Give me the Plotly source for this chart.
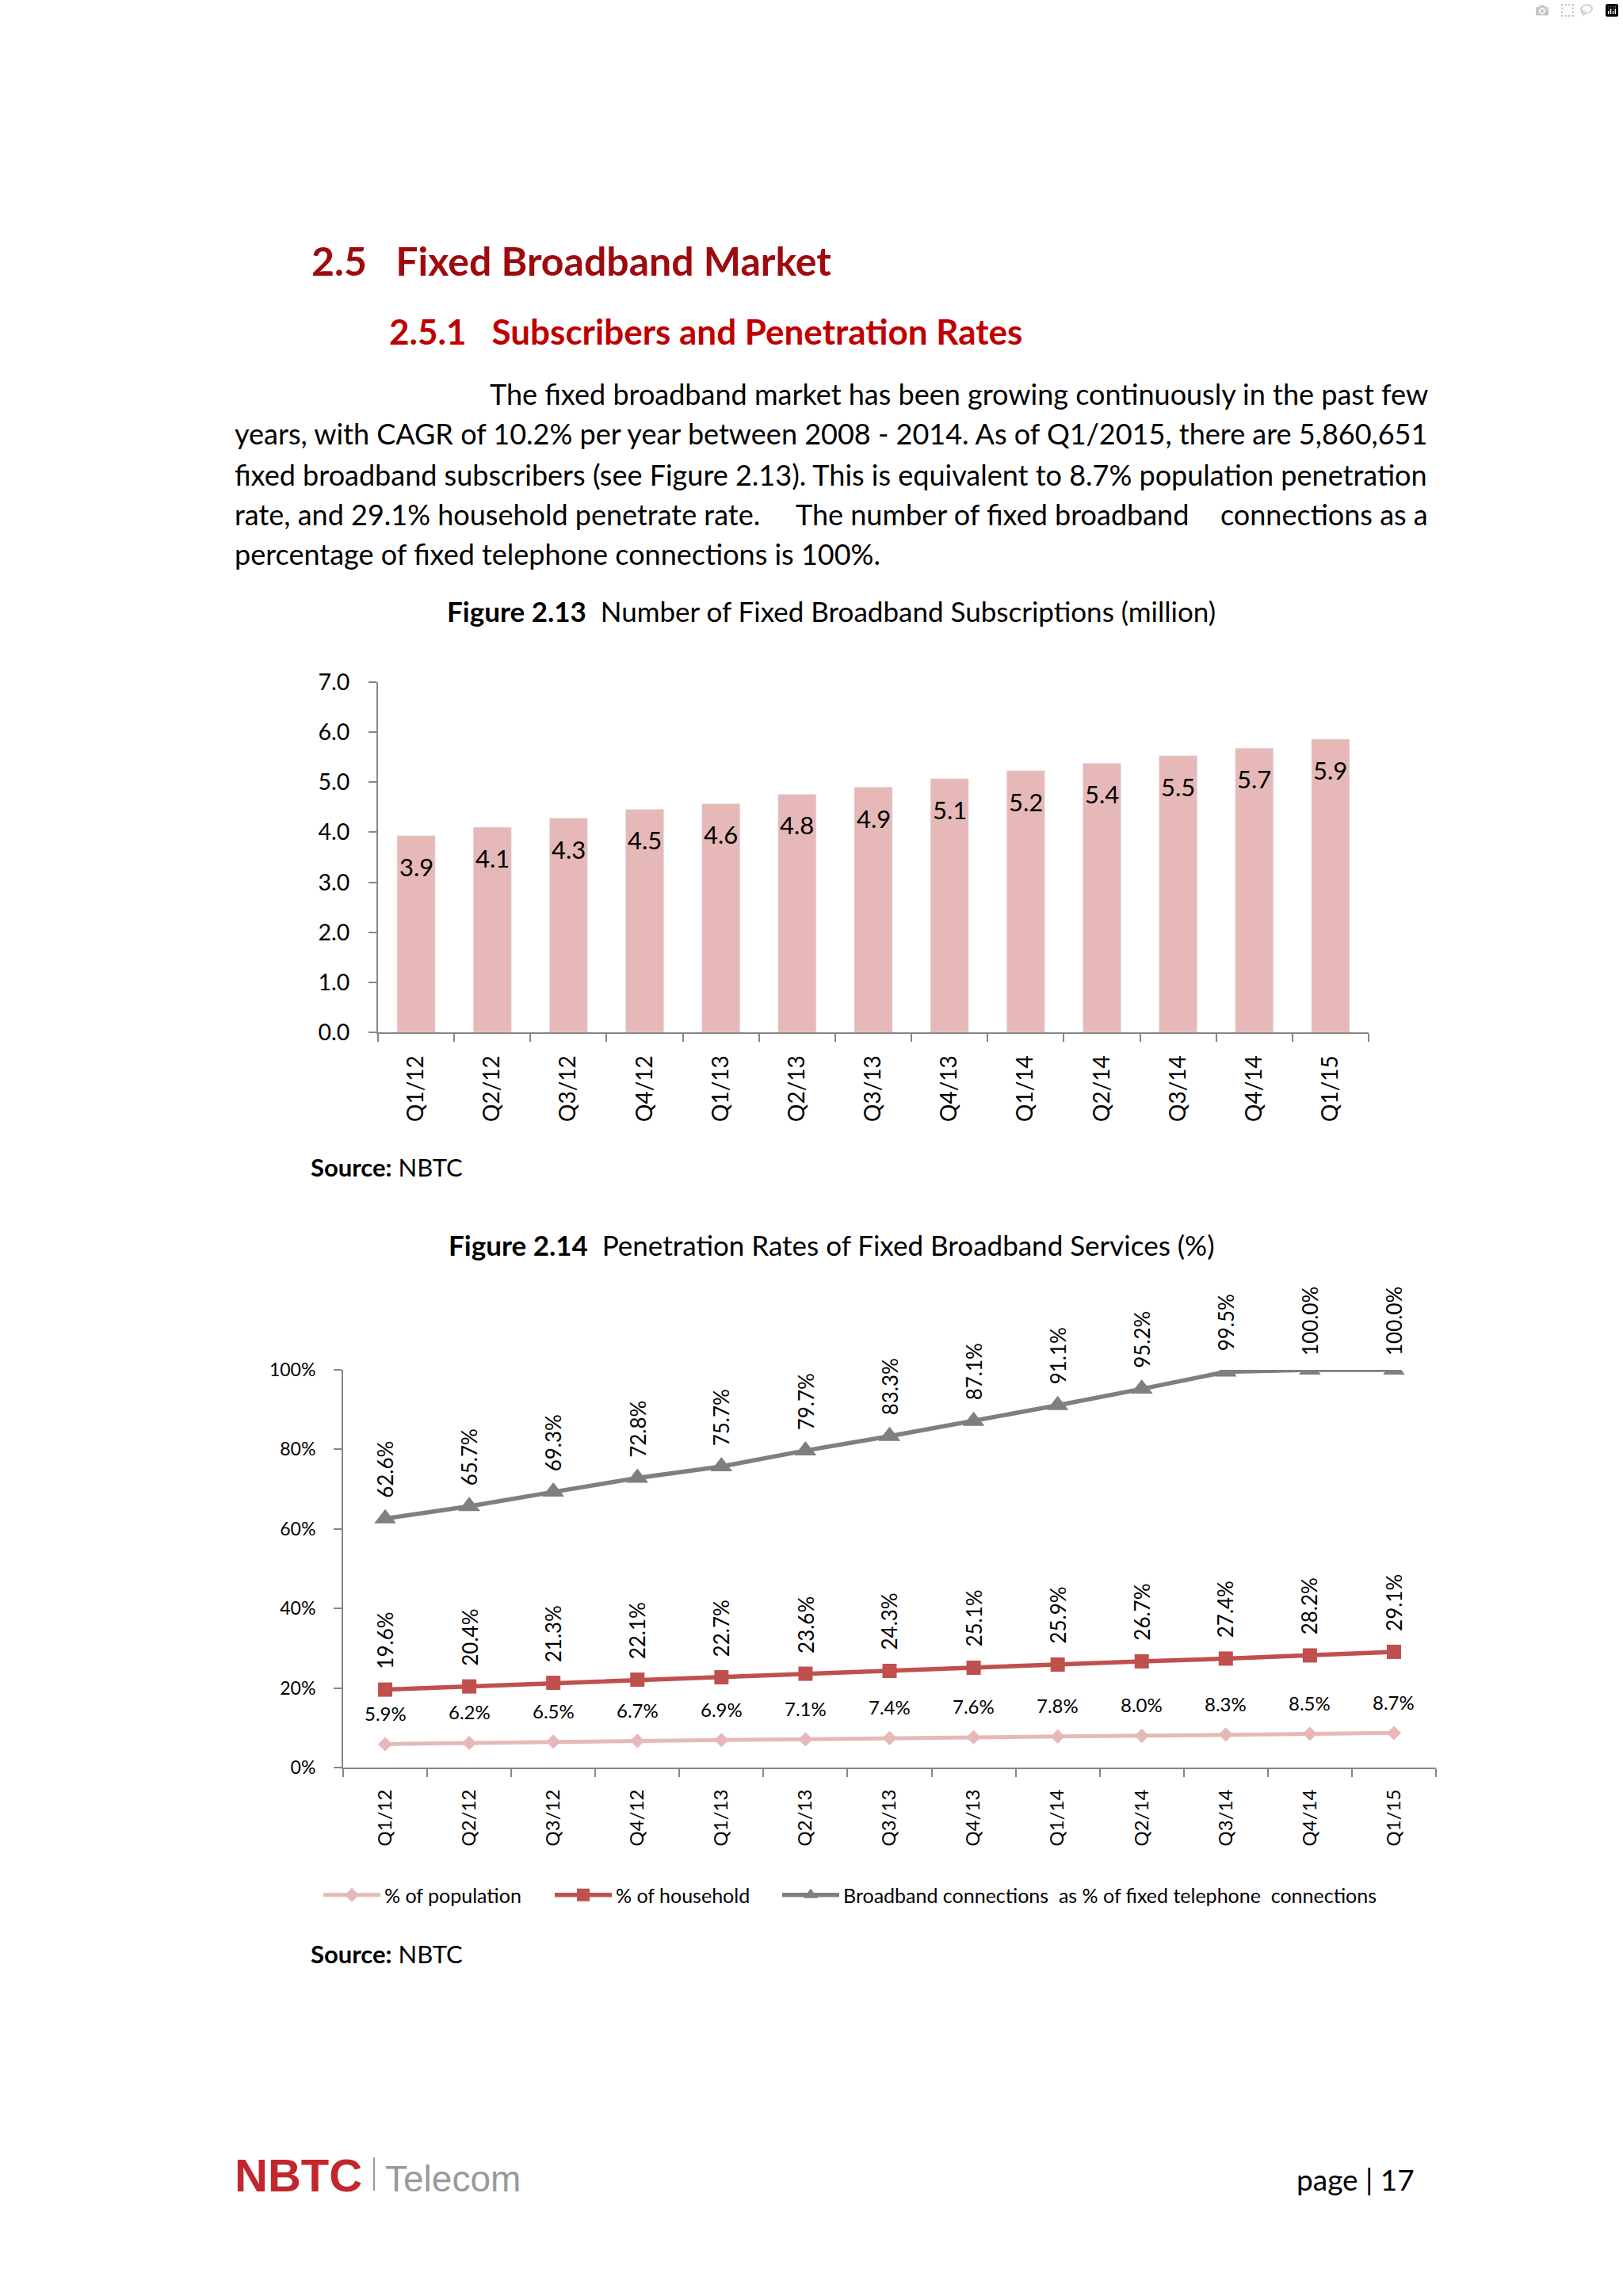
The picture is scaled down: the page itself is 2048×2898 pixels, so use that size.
import plotly.graph_objects as go

W, H = 2048, 2898

# ---------------- data ----------------
quarters = ["Q1/12", "Q2/12", "Q3/12", "Q4/12", "Q1/13", "Q2/13", "Q3/13",
            "Q4/13", "Q1/14", "Q2/14", "Q3/14", "Q4/14", "Q1/15"]
subscribers_million = [3.93, 4.10, 4.28, 4.46, 4.57, 4.76, 4.90, 5.07, 5.23, 5.38, 5.53, 5.68, 5.86]
pct_population = [5.9, 6.2, 6.5, 6.7, 6.9, 7.1, 7.4, 7.6, 7.8, 8.0, 8.3, 8.5, 8.7]
pct_household = [19.6, 20.4, 21.3, 22.1, 22.7, 23.6, 24.3, 25.1, 25.9, 26.7, 27.4, 28.2, 29.1]
pct_fixed_tel = [62.6, 65.7, 69.3, 72.8, 75.7, 79.7, 83.3, 87.1, 91.1, 95.2, 99.5, 100.0, 100.0]
bar_ticks = [0, 1, 2, 3, 4, 5, 6, 7]
line_ticks = [0, 20, 40, 60, 80, 100]

FONT = "Lato"
PINK, RED, GRAY = "#E6B9B8", "#C0504D", "#7F7F7F"
AXIS = "#868686"


def py(p):
    return 1 - p / H


def px(p):
    return p / W


fig = go.Figure()

fig.add_trace(go.Bar(x=quarters, y=subscribers_million, marker_color=PINK,
                     showlegend=False, xaxis="x", yaxis="y"))

fig.add_trace(go.Scatter(x=quarters, y=pct_population, name="% of population",
                         mode="lines+markers", line=dict(color=PINK, width=5),
                         marker=dict(symbol="diamond", size=14, color=PINK),
                         xaxis="x2", yaxis="y2", legend="legend"))
fig.add_trace(go.Scatter(x=quarters, y=pct_household, name="% of household",
                         mode="lines+markers", line=dict(color=RED, width=5.5),
                         marker=dict(symbol="square", size=18, color=RED),
                         xaxis="x2", yaxis="y2", legend="legend2"))
fig.add_trace(go.Scatter(x=quarters, y=pct_fixed_tel,
                         name="Broadband connections  as % of fixed telephone  connections",
                         mode="lines+markers", line=dict(color=GRAY, width=5.5),
                         marker=dict(symbol="triangle-up", size=24, color=GRAY),
                         xaxis="x2", yaxis="y2", legend="legend3"))

ann = []
# bar value labels
for q, v in zip(quarters, subscribers_million):
    ann.append(dict(x=q, y=v, xref="x", yref="y", text=f"{v:.1f}", showarrow=False,
                    yshift=-39, font=dict(family=FONT, size=31, color="black")))
# line labels
for q, v in zip(quarters, pct_population):
    ann.append(dict(x=q, y=v, xref="x2", yref="y2", text=f"{v:.1f}%", showarrow=False,
                    yshift=39, font=dict(family=FONT, size=24, color="black")))
for series in (pct_household, pct_fixed_tel):
    for q, v in zip(quarters, series):
        ann.append(dict(x=q, y=v, xref="x2", yref="y2", text=f"{v:.1f}%", showarrow=False,
                        textangle=-90, yshift=62,
                        font=dict(family=FONT, size=26, color="black")))

NB = "\u00a0"
BODY = 36
texts = [
    # (text, x, y, xanchor, size, color)
    (f"<b>2.5{NB*2} Fixed Broadband Market</b>", 391, 329, "left", 50, "#9E0B0F"),
    (f"<b>2.5.1{NB*2} Subscribers and Penetration Rates</b>", 489, 418, "left", 44, "#C00000"),
    ("The fixed broadband market has been growing continuously in the past few", 1804, 497, "right", BODY, "black"),
    ("years, with CAGR of 10.2% per year between 2008 - 2014. As of Q1/2015, there are 5,860,651", 294, 547, "left", BODY, "black"),
    ("fixed broadband subscribers (see Figure 2.13). This is equivalent to 8.7% population penetration", 294, 599, "left", BODY, "black"),
    ("rate, and 29.1% household penetrate rate.", 294, 649, "left", BODY, "black"),
    ("The number of fixed broadband", 1002, 649, "left", BODY, "black"),
    ("connections as a", 1804, 649, "right", BODY, "black"),
    ("percentage of fixed telephone connections is 100%.", 294, 699, "left", BODY, "black"),
    (f"<b>Figure 2.13</b>{NB*2}Number of Fixed Broadband Subscriptions (million)", 1049, 771, "center", 35, "black"),
    ("<b>Source:</b> NBTC", 390, 1473, "left", 31, "black"),
    (f"<b>Figure 2.14</b>{NB*2}Penetration Rates of Fixed Broadband Services (%)", 1049, 1571, "center", 35, "black"),
    ("<b>Source:</b> NBTC", 390, 2466, "left", 31, "black"),
    (f"page{NB}|{NB}17", 1787, 2750, "right", 37, "black"),
]
for t, x, y, xa, s, c in texts:
    ann.append(dict(text=t, x=px(x), y=py(y), xref="paper", yref="paper", xanchor=xa,
                    yanchor="middle", showarrow=False, font=dict(family=FONT, size=s, color=c)))

ann.append(dict(text="<b>NBTC</b>", x=px(294), y=py(2745), xref="paper", yref="paper",
                xanchor="left", yanchor="middle", showarrow=False,
                font=dict(family="Liberation Sans", size=58, color="#C1272D")))
ann.append(dict(text="Telecom", x=px(484), y=py(2750), xref="paper", yref="paper",
                xanchor="left", yanchor="middle", showarrow=False,
                font=dict(family="Liberation Sans", size=46, color="#9A9A9A")))

shapes = [dict(type="line", xref="paper", yref="paper", x0=px(472), x1=px(472),
               y0=py(2765), y1=py(2723), line=dict(color="#9A9A9A", width=2))]

common_x = dict(type="category", showline=True, linecolor=AXIS, linewidth=2,
                ticks="outside", tickson="boundaries", ticklen=10, tickwidth=2,
                tickcolor=AXIS, tickangle=-90, showgrid=False, zeroline=False,
                fixedrange=True, automargin=False, range=[-0.5, len(quarters) - 0.5])
common_y = dict(showline=True, linecolor=AXIS, linewidth=2, ticks="outside",
                ticklen=10, tickwidth=2, tickcolor=AXIS, showgrid=False,
                zeroline=False, fixedrange=True, automargin=False)

leg = dict(orientation="h", yanchor="middle", xanchor="left", y=py(2392),
           font=dict(family=FONT, size=25), itemwidth=72, bgcolor="rgba(0,0,0,0)")

fig.update_layout(
    width=W, height=H, margin=dict(l=0, r=0, t=0, b=0, pad=0, autoexpand=False),
    paper_bgcolor="white", plot_bgcolor="white",
    font=dict(family=FONT, color="black"),
    bargap=0.5,
    xaxis=dict(domain=[px(477), px(1727)], anchor="y",
               tickfont=dict(family=FONT, size=28), ticklabelstandoff=16, **common_x),
    yaxis=dict(domain=[py(1303), py(861)], anchor="x", range=[0, 7],
               tickvals=bar_ticks, ticktext=[f"{v:.1f}" for v in bar_ticks],
               tickfont=dict(family=FONT, size=28.5), ticklabelstandoff=18, **common_y),
    xaxis2=dict(domain=[px(433), px(1812)], anchor="y2",
                tickfont=dict(family=FONT, size=24), ticklabelstandoff=16, **common_x),
    yaxis2=dict(domain=[py(2231), py(1729)], anchor="x2", range=[0, 100],
                tickvals=line_ticks, ticktext=[f"{v}%" for v in line_ticks],
                tickfont=dict(family=FONT, size=23), ticklabelstandoff=18, **common_y),
    legend=dict(x=px(403), **leg),
    legend2=dict(x=px(695), **leg),
    legend3=dict(x=px(982), **leg),
    annotations=ann, shapes=shapes,
)

fig.write_html("out.html", post_script="document.body.style.margin='0';")
